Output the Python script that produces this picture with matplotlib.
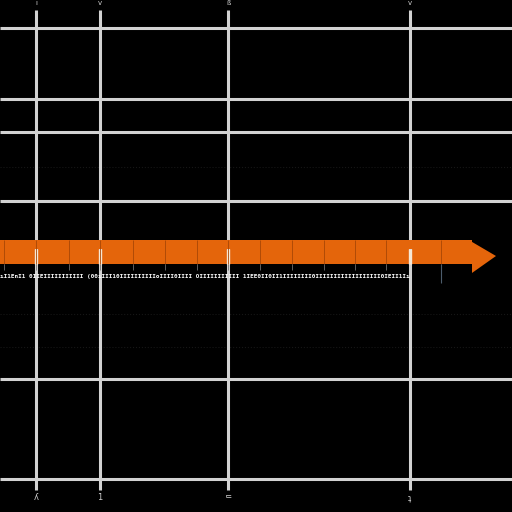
import matplotlib.pyplot as plt
from matplotlib.patches import Polygon

# ── data (1 unit = one bar segment) ───────────────────────────────────────────
grid_x = [1.14, 3.11, 7.13, 12.81]
grid_y = [15.13, 12.92, 11.88, 9.72, 4.16, 1.03]
faint_y = [10.78, 6.19, 5.16]
top_labels = ["ı", "v", "ß", "v"]
bottom_labels = ["ʎ", "1", "ᄃ", "ʇ"]
seg_edges = [0.12, 1.13, 2.16, 3.13, 4.16, 5.16, 6.16, 7.13, 8.13, 9.13,
             10.13, 11.09, 12.06, 13.78]
bar_start, bar_end, arrow_tip = 0.0, 14.75, 15.5
bar_lo, bar_hi = 7.75, 8.5
row_text = ("ıI1EnI1 0IIEIIIIIIIIIII (00ıIII10IIIIIIIIIIoIIII0IIII "
            "OIIIIIIIIIII 1IEE0II0II1IIIIIIII0IIIIIIIIIIIIIIIIII0IEII1Iı")

fig = plt.figure(figsize=(5.12, 5.12), dpi=100, facecolor="black")
ax = fig.add_axes([0, 0, 1, 1])
ax.set_facecolor("black")
ax.set_xlim(0, 16)
ax.set_ylim(0, 16)
ax.axis("off")

GRID = "#d2d2d2"
ORANGE = "#e4650b"

# faint background lines
ax.hlines(faint_y, 0, 16, colors="#161616", lw=0.8, linestyles=":", zorder=0)

# grid
ax.hlines(grid_y, 0, 16, colors=GRID, lw=2.2, zorder=2)
ax.vlines(grid_x, 0.69, 15.69, colors=GRID, lw=2.2, zorder=2)

# bar: upper strip covers the grid, lower strip sits under it
mid = bar_hi - 0.28
ax.fill_between([bar_start, bar_end], mid, bar_hi, color=ORANGE, lw=0, zorder=3)
ax.fill_between([bar_start, bar_end], bar_lo, mid, color=ORANGE, lw=0, zorder=1)
ax.vlines(grid_x, bar_lo, mid, colors="#f6e8d6", lw=2.4, zorder=2)
ax.add_patch(Polygon([[bar_end, 7.47], [bar_end, 8.44], [arrow_tip, 8.0]],
                     closed=True, color=ORANGE, lw=0, zorder=3))

# segment dividers and ticks
ax.vlines(seg_edges, bar_lo, bar_hi, colors="#a84706", lw=0.6, zorder=4)
ax.vlines(seg_edges[:-1], bar_lo - 0.2, bar_lo, colors="#707070", lw=0.6, zorder=4)
ax.vlines(seg_edges[-1], bar_lo - 0.6, bar_lo, colors="#4c5c6c", lw=0.8, zorder=4)

# tiny label row under the bar
ax.text(0.0, bar_lo - 0.38, row_text, fontsize=4.3, family="DejaVu Sans Mono",
        fontweight="bold", color="white", ha="left", va="center", zorder=4)

# axis labels at grid lines
for x, t, b in zip(grid_x, top_labels, bottom_labels):
    ax.text(x, 15.92, t, fontsize=5, color="#cfcfcf", ha="center", va="center",
            family=["DejaVu Sans", "Noto Sans CJK KR"])
    ax.text(x, 0.45, b, fontsize=6, color="#cfcfcf", ha="center", va="center",
            family=["DejaVu Sans", "Noto Sans CJK KR"])

plt.savefig("out.png", dpi=100, facecolor=fig.get_facecolor())
